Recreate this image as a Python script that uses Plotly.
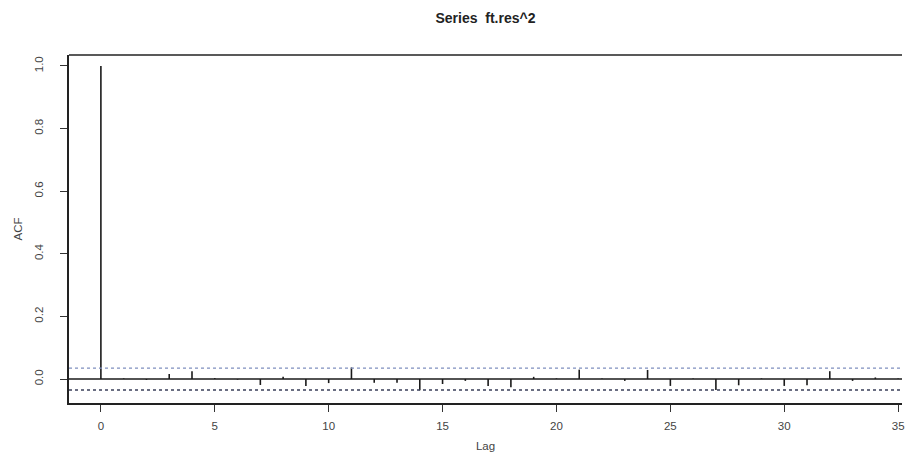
import plotly.graph_objects as go

# ---- data ----
lags = list(range(0, 36))
acf_vals = [1.0, 0.002, -0.003, 0.016, 0.025, 0.003, -0.002, -0.019, 0.007, -0.022,
            -0.013, 0.037, -0.012, -0.012, -0.036, -0.016, -0.006, -0.022, -0.026, 0.007,
            0.002, 0.030, 0.002, -0.006, 0.029, -0.022, 0.002, -0.035, -0.020, 0.002,
            -0.022, -0.020, 0.025, -0.006, 0.005, 0.002]
ci_level = 0.035
x_ticks = [0, 5, 10, 15, 20, 25, 30, 35]
y_ticks = [0.0, 0.2, 0.4, 0.6, 0.8, 1.0]
y_tick_text = ["0.0", "0.2", "0.4", "0.6", "0.8", "1.0"]

# build spike segments
xs, ys = [], []
for k, v in zip(lags, acf_vals):
    xs += [k, k, None]
    ys += [0, v, None]

x_range = [-1.4, 35.17]
y_range = [-0.0766, 1.035]

fig = go.Figure()
fig.add_trace(go.Scatter(x=xs, y=ys, mode="lines",
                         line=dict(color="#1a1a1a", width=1.6),
                         hoverinfo="skip", showlegend=False))
# zero line
fig.add_trace(go.Scatter(x=x_range, y=[0, 0], mode="lines",
                         line=dict(color="#1a1a1a", width=1.6),
                         hoverinfo="skip", showlegend=False))
# confidence bands
fig.add_trace(go.Scatter(x=x_range, y=[ci_level, ci_level], mode="lines",
                         line=dict(color="#7f8fbf", width=1.2, dash="3px,3px"),
                         hoverinfo="skip", showlegend=False))
fig.add_trace(go.Scatter(x=x_range, y=[-ci_level, -ci_level], mode="lines",
                         line=dict(color="#3a3f5a", width=1.4, dash="3px,3px"),
                         hoverinfo="skip", showlegend=False))

# top border of the plot box
fig.add_shape(type="line", xref="paper", yref="paper", x0=0, x1=1, y0=1, y1=1,
              line=dict(color="#222", width=1.6))

W, H = 905, 465
fig.update_layout(
    width=W, height=H,
    margin=dict(l=69, r=0, t=55, b=62),
    paper_bgcolor="white", plot_bgcolor="white",
    font=dict(family="Liberation Sans, Arial, sans-serif", color="#333333", size=11),
    title=dict(text="<b>Series  ft.res^2</b>", x=0.5, xref="paper", xanchor="center",
               y=1 - 18 / H, yref="container", yanchor="middle",
               font=dict(size=14, color="#222222")),
    xaxis=dict(range=x_range, tickvals=x_ticks, ticks="outside", ticklen=7,
               tickcolor="#333", showgrid=False, zeroline=False,
               showline=True, linecolor="#222", linewidth=1.6, mirror=False,
               ticklabelstandoff=4, ticklabeloverflow="allow",
               tickfont=dict(size=11.5, color="#444"),
               title=dict(text="Lag", font=dict(size=11.5, color="#444"), standoff=11)),
    yaxis=dict(range=y_range, tickvals=y_ticks, ticktext=y_tick_text,
               ticks="outside", ticklen=7, tickcolor="#333", tickangle=-90,
               showgrid=False, zeroline=False,
               showline=True, linecolor="#222", linewidth=1.6,
               ticklabelstandoff=13,
               tickfont=dict(size=11.5, color="#444"),
               title=dict(text="ACF", font=dict(size=11.5, color="#444"), standoff=8)),
)

fig.write_html(
    "out.html",
    config={"displayModeBar": False},
    post_script="document.body.style.margin='0';"
                "document.documentElement.style.overflow='hidden';"
                "document.body.style.overflow='hidden';",
)
